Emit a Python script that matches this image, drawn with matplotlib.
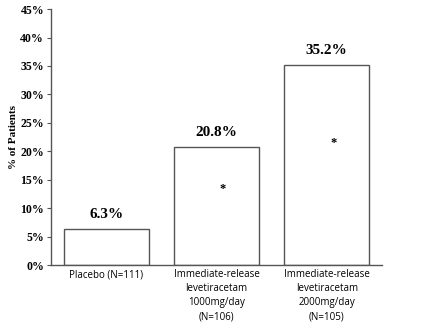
import matplotlib
matplotlib.use("Agg")
import matplotlib.pyplot as plt
import numpy as np

categories = ["Placebo (N=111)",
              "Immediate-release\nlevetiracetam\n1000mg/day\n(N=106)",
              "Immediate-release\nlevetiracetam\n2000mg/day\n(N=105)"]
values = [6.3, 20.8, 35.2]
value_labels = ["6.3%", "20.8%", "35.2%"]
star_y = [None, 13.4, 21.4]
yticks = [0, 5, 10, 15, 20, 25, 30, 35, 40, 45]

fig = plt.figure(figsize=(4.34, 3.26), dpi=100)
ax = fig.add_axes([0.1175, 0.187, 0.7625, 0.785])

x = np.arange(len(values))
ax.bar(x, values, width=0.77, color="white", edgecolor="#555555", linewidth=1.0)

for xi, v, lab in zip(x, values, value_labels):
    ax.text(xi, v + 1.4, lab, ha="center", va="bottom", family="Liberation Serif",
            fontweight="bold", fontsize=11)
for xi, s in zip(x, star_y):
    if s is not None:
        ax.text(xi + 0.06, s, "*", ha="center", va="center", family="Liberation Serif",
                fontweight="bold", fontsize=9)

ax.set_xlim(-0.5, 2.5)
ax.set_ylim(0, 45)
ax.set_yticks(yticks)
ax.set_yticklabels([f"{t}%" for t in yticks], family="Liberation Serif", fontweight="bold", fontsize=8.5)
ax.set_xticks(x)
ax.set_xticklabels(categories, family="Open Sans", fontsize=7, linespacing=1.38, va="top")
ax.tick_params(axis="x", length=0, pad=3)
ax.tick_params(axis="y", length=3, width=0.8, color="#555555", pad=2)
ax.set_ylabel("% of Patients", family="Liberation Serif", fontweight="bold", fontsize=8, labelpad=2)

for side in ["top", "right"]:
    ax.spines[side].set_visible(False)
for side in ["left", "bottom"]:
    ax.spines[side].set_color("#555555")
    ax.spines[side].set_linewidth(1.0)

fig.savefig("out.png", dpi=100)
